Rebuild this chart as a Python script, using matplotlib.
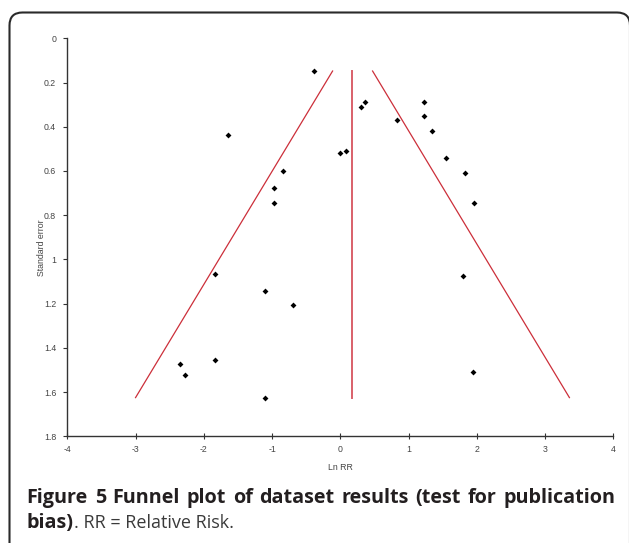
import matplotlib
matplotlib.use("Agg")
import matplotlib.pyplot as plt
from matplotlib.patches import FancyBboxPatch

# Data
ln_rr = [-0.38, -1.65, -0.84, -0.97, -0.97, -1.84, 0.31, 0.36, 0.83, 1.22,
         1.23, 1.35, 0.00, 0.08, 1.55, 1.83, 1.96, 1.80, -1.10, -0.70,
         -2.35, -2.27, -1.84, -1.10, 1.95]
std_err = [0.147, 0.439, 0.600, 0.679, 0.745, 1.068, 0.311, 0.290, 0.368, 0.287,
           0.350, 0.419, 0.520, 0.511, 0.543, 0.609, 0.745, 1.074, 1.142, 1.208,
           1.474, 1.524, 1.454, 1.629, 1.508]

pooled_x = [0.171, 0.171]
pooled_y = [0.148, 1.625]
lower_x = [-0.113, -3.00]
upper_x = [0.473, 3.357]
limit_y = [0.148, 1.625]

x_ticks = [-4, -3, -2, -1, 0, 1, 2, 3, 4]
y_ticks = [0, 0.2, 0.4, 0.6, 0.8, 1, 1.2, 1.4, 1.6, 1.8]
y_tick_labels = ["0", "0.2", "0.4", "0.6", "0.8", "1", "1.2", "1.4", "1.6", "1.8"]

caption_line1 = "Figure 5 Funnel plot of dataset results (test for publication"
caption_bold2 = "bias)"
caption_rest = ". RR = Relative Risk."

W, H = 629, 543
fig = plt.figure(figsize=(W / 100, H / 100), dpi=100)
fig.patch.set_facecolor("white")

# rounded frame
frame = FancyBboxPatch((9.5 / 100, -0.5), (630 - 9.5) / 100, (543 - 12.5) / 100 + 0.5,
                       boxstyle="round,pad=0,rounding_size=0.13",
                       transform=fig.dpi_scale_trans, fill=False,
                       edgecolor="#2a2a2a", linewidth=1.5, clip_on=False)
fig.patches.append(frame)

left, right = 67.3 / W, 613.3 / W
top, bottom = 1 - 38.3 / H, 1 - 436.3 / H
ax = fig.add_axes([left, bottom, right - left, top - bottom])

red = "#cc2f3a"
ax.plot(pooled_x, pooled_y, color="#d9606a", lw=1.4)
ax.plot(lower_x, limit_y, color=red, lw=0.9)
ax.plot(upper_x, limit_y, color=red, lw=0.9)
ax.scatter(ln_rr, std_err, marker="D", s=9, color="black", zorder=3, linewidths=0)

ax.set_xlim(-4, 4)
ax.set_ylim(1.8, 0)
ax.set_xticks(x_ticks)
ax.set_xticklabels([str(t) for t in x_ticks])
ax.set_yticks(y_ticks)
ax.set_yticklabels(y_tick_labels)

for s in ["top", "right"]:
    ax.spines[s].set_visible(False)
for s in ["left", "bottom"]:
    ax.spines[s].set_color("#333333")
    ax.spines[s].set_linewidth(1.0)

tick_font = "Liberation Sans"
ax.tick_params(axis="both", direction="inout", length=4, width=0.8, colors="#333333",
               labelsize=6.3, pad=3)
for lab in ax.get_xticklabels() + ax.get_yticklabels():
    lab.set_fontfamily(tick_font)
    lab.set_color("#444444")
ax.tick_params(axis="y", direction="out", length=3, pad=5)
ax.tick_params(axis="x", pad=4)

fig.text(42 / W, 1 - 248 / H, "Standard error", rotation=90, ha="center", va="center",
         fontsize=6.3, family=tick_font, color="#444444")
fig.text(340 / W, 1 - 468 / H, "Ln RR", ha="center", va="center",
         fontsize=6.3, family=tick_font, color="#444444")

cap_font = "Open Sans"
cap_size = 14.2
cap_color = "#231f20"
renderer = fig.canvas.get_renderer()

# justified first line between x=26.7 and x=615
words = caption_line1.split(" ")
tmp = [fig.text(0, 0, w, fontsize=cap_size, fontweight="bold", family=cap_font) for w in words]
widths = [t.get_window_extent(renderer).width for t in tmp]
for t in tmp:
    t.remove()
x0, x1 = 26.7, 615.0
gap = (x1 - x0 - sum(widths)) / (len(words) - 1)
x = x0
for w, wd in zip(words, widths):
    fig.text(x / W, 1 - 503 / H, w, ha="left", va="baseline", fontsize=cap_size,
             fontweight="bold", family=cap_font, color=cap_color)
    x += wd + gap

t1 = fig.text(26.7 / W, 1 - 528 / H, caption_bold2, ha="left", va="baseline",
              fontsize=cap_size, fontweight="bold", family=cap_font, color=cap_color)
bb = t1.get_window_extent(renderer)
fig.text(bb.x1 / W, 1 - 528 / H, caption_rest, ha="left", va="baseline",
         fontsize=13.0, family=cap_font, color="#3a3a3a")

fig.savefig("out.png", dpi=100)
